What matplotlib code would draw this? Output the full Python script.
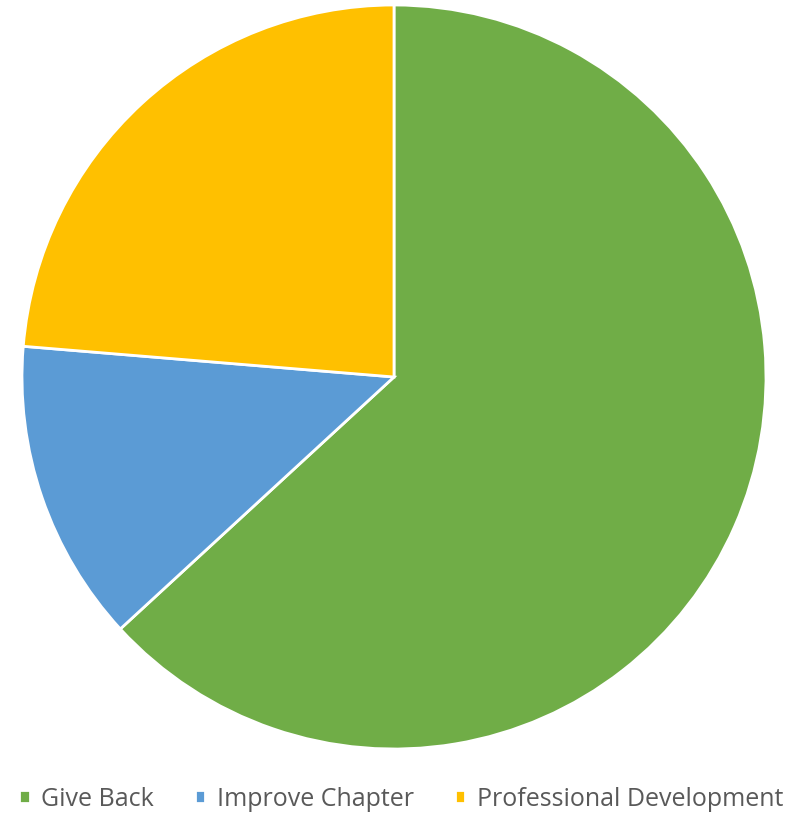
import matplotlib.pyplot as plt

labels = ["Give Back", "Improve Chapter", "Professional Development"]
values = [24, 5, 9]
colors = ["#70AD47", "#5B9BD5", "#FFC000"]

plt.rcParams['font.family'] = ['Open Sans', 'DejaVu Sans']

fig = plt.figure(figsize=(7.92, 8.14), dpi=100)
W, H = 792, 814
cx, cy, r = 394, 377, 372
ax = fig.add_axes([(cx - r) / W, (H - cy - r) / H, 2 * r / W, 2 * r / H])

wedges, _ = ax.pie(values, colors=colors, startangle=90, counterclock=False,
                   wedgeprops=dict(edgecolor="white", linewidth=2))
ax.set_xlim(-1, 1)
ax.set_ylim(-1, 1)
ax.set_aspect("equal")
ax.axis("off")

fig.legend(wedges, labels, loc="center", bbox_to_anchor=(401 / W, 1 - 799 / H),
           ncol=3, frameon=False, fontsize=18, labelcolor="#595959",
           handlelength=0.42, handleheight=0.42, handletextpad=0.45,
           columnspacing=1.65)

fig.savefig("out.png", dpi=100, facecolor="white")
